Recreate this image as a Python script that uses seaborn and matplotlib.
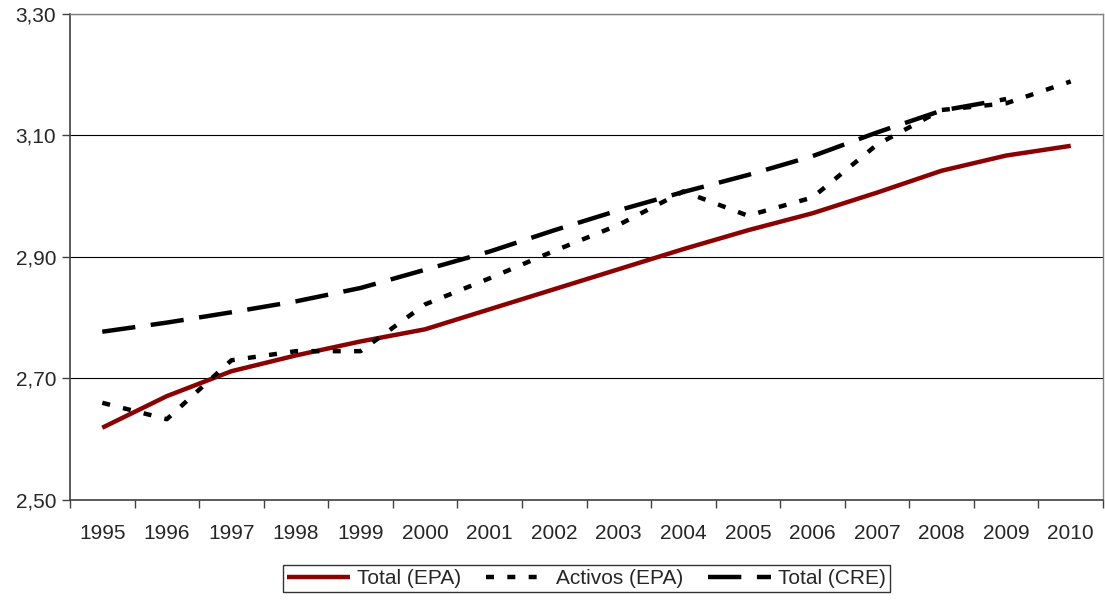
import numpy as np
import pandas as pd
import matplotlib
matplotlib.use("Agg")
import matplotlib.pyplot as plt
import seaborn as sns
from matplotlib.ticker import FuncFormatter, FixedLocator

years = [str(y) for y in range(1995, 2011)]
total_epa = [2.619, 2.671, 2.712, 2.738, 2.761, 2.781, 2.814, 2.847, 2.880, 2.913,
             2.944, 2.972, 3.006, 3.042, 3.067, 3.083]
activos_epa = [2.660, 2.633, 2.730, 2.745, 2.745, 2.822, 2.865, 2.910, 2.953, 3.008,
               2.968, 2.998, 3.085, 3.142, 3.153, 3.189]
total_cre = [2.777, 2.792, 2.809, 2.827, 2.849, 2.879, 2.909, 2.944, 2.977, 3.007,
             3.035, 3.066, 3.105, 3.141, 3.160, np.nan]

df = pd.DataFrame({"idx": range(len(years)), "year": years,
                   "Total (EPA)": total_epa, "Activos (EPA)": activos_epa,
                   "Total (CRE)": total_cre})

sns.set_theme(style="white")
plt.rcParams['font.family'] = ['Liberation Sans', 'DejaVu Sans']

fig = plt.figure(figsize=(11.05, 6), dpi=100)
ax = fig.add_axes([70 / 1105, 100 / 600, 1033 / 1105, 486 / 600])

sns.lineplot(data=df, x="idx", y="Total (EPA)", ax=ax, color="#8b0000",
             linewidth=3.2, label="Total (EPA)")
sns.lineplot(data=df, x="idx", y="Activos (EPA)", ax=ax, color="black",
             linewidth=3.2, label="Activos (EPA)")
sns.lineplot(data=df, x="idx", y="Total (CRE)", ax=ax, color="black",
             linewidth=3.2, label="Total (CRE)")
ax.lines[1].set_dashes([1.8, 3.0])
ax.lines[2].set_dashes([7.5, 3.5])
for ln in ax.lines:
    ln.set_solid_capstyle("butt")
    ln.set_dash_capstyle("butt")

ax.set_xlim(-0.5, len(years) - 0.5)
ax.set_ylim(2.5, 3.3)
ax.set_xticks(range(len(years)))
ax.set_xticklabels(years)
ax.xaxis.set_minor_locator(FixedLocator(np.arange(-0.5, len(years), 1.0)))
ax.tick_params(axis="x", which="major", length=0, pad=17, labelsize=15)
ax.tick_params(axis="x", which="minor", length=6, width=1, color="#404040", bottom=True)
ax.set_yticks([2.5, 2.7, 2.9, 3.1, 3.3])
ax.yaxis.set_major_formatter(FuncFormatter(lambda v, p: f"{v:.2f}".replace(".", ",")))
ax.tick_params(axis="y", which="major", length=6, width=1, color="#404040",
               left=True, labelsize=15, pad=4)
ax.grid(axis="y", color="black", linewidth=0.8)
ax.set_axisbelow(True)
ax.set_xlabel("")
ax.set_ylabel("")
for side in ["left", "bottom"]:
    ax.spines[side].set_color("#404040")
    ax.spines[side].set_linewidth(1.2)
for side in ["top", "right"]:
    ax.spines[side].set_color("#808080")
    ax.spines[side].set_linewidth(1.0)

leg = ax.legend(loc="upper center", bbox_to_anchor=(0.5, -0.134), ncol=3,
                frameon=True, fancybox=False, edgecolor="black", fontsize=15,
                handlelength=3.0, handletextpad=0.35, columnspacing=1.2,
                borderpad=0.2, borderaxespad=0)
leg.get_frame().set_linewidth(1.0)

fig.savefig("out.png", dpi=100)
